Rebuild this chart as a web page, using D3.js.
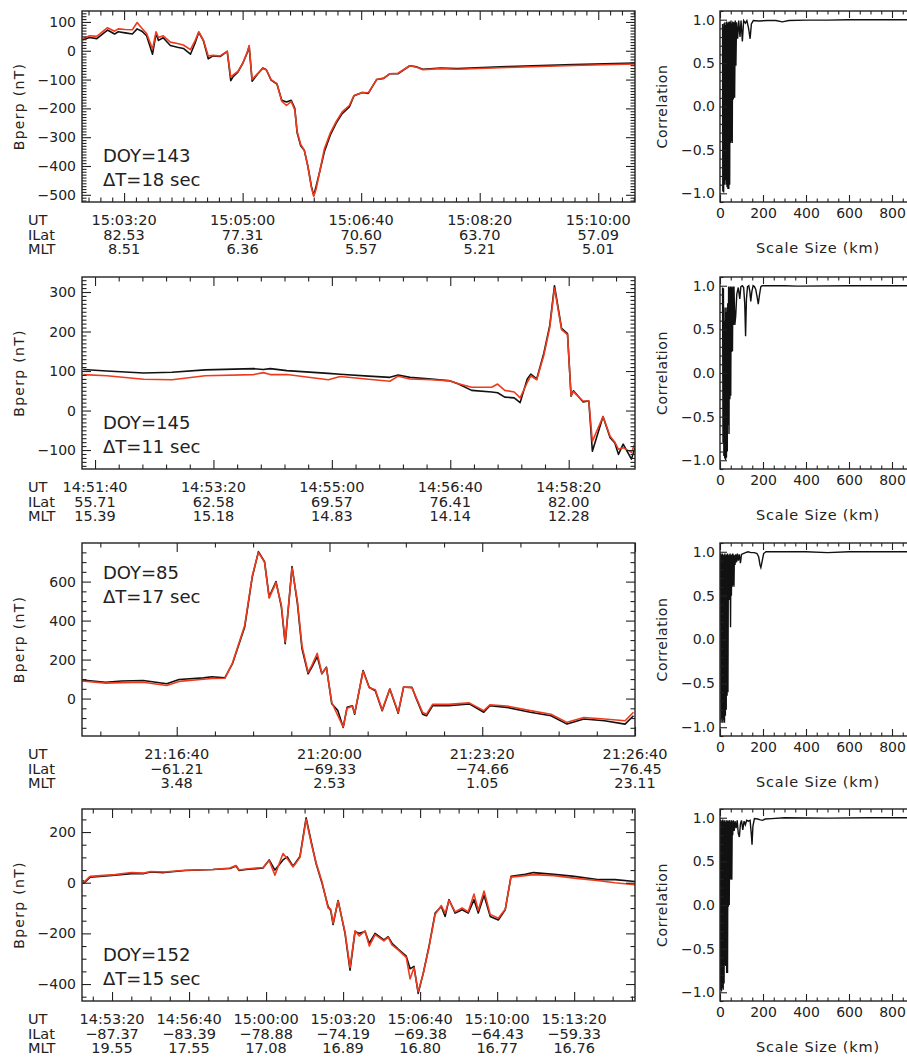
<!DOCTYPE html>
<html>
<head>
<meta charset="utf-8">
<script src="https://cdn.jsdelivr.net/npm/d3@7"></script>
<style>
  body { margin: 0; background: #fff; }
  svg text { font-family: "DejaVu Sans", sans-serif; fill: #222; }
</style>
</head>
<body>
<script>
// ---- panel 1 : DOY 143 (seconds after 15:00:00) ----
var p1Time = [165,171,177,186,192,195,201,207,211,215,
  219,224,227,229,233,239,245,250,256,260,
  263,267,271,275,281,287,290,292,296,300,
  304,305.5,308,312,317,320,324,329,333,337,
  341,344,346,349,352,355,358,360,362,365,
  369,374,379,384,390,394,401,406,413,419,
  424,431,441,447,452,467,481,523,579,631];
var p1Black = [38,46,42,72,58,66,62,58,76,68,
  52,-12,60,36,45,18,12,8,-12,28,
  64,34,-28,-18,-20,-2,-104,-90,-74,-45,
  -6,15,-106,-84,-60,-66,-102,-116,-172,-178,
  -172,-200,-285,-330,-345,-400,-470,-502,-470,-420,
  -350,-292,-250,-218,-195,-156,-145,-148,-100,-96,
  -80,-80,-52,-56,-64,-60,-62,-55,-48,-43];
var p1Red = [42,52,50,80,68,76,74,73,98,78,
  60,6,66,46,52,30,25,20,4,36,
  66,36,-18,-16,-18,-2,-92,-84,-72,-44,
  -4,18,-100,-82,-62,-66,-100,-114,-175,-190,
  -176,-205,-280,-325,-345,-400,-475,-505,-480,-420,
  -340,-285,-245,-212,-190,-155,-145,-146,-100,-95,
  -80,-78,-52,-57,-66,-62,-64,-58,-51,-46];
var p1UT = ["15:03:20","15:05:00","15:06:40","15:08:20","15:10:00"];
var p1ILat = ["82.53","77.31","70.60","63.70","57.09"];
var p1MLT = ["8.51","6.36","5.57","5.21","5.01"];

// ---- panel 2 : DOY 145 (seconds after 14:50:00) ----
var p2Time = [90,110,141,165,193,234,242,248,262,297,
  307,331,349,356,366,384,400,407,418,435,
  440,446,454,459,465,468,473,479,484,488,
  494,499,502,504,512,517,520,529,535,539,
  542,546,553,556];
var p2Black = [104,100,95,97,103,106,104,106,101,94,
  92,87,84,90,84,80,75,67,51,47,
  45,34,32,20,80,92,80,145,215,316,
  208,195,36,50,22,24,-103,-15,-69,-82,
  -111,-85,-123,-94];
var p2Red = [91,88,79,78,88,91,96,91,91,78,
  86,79,74,87,80,78,75,68,59,59,
  67,51,47,32,71,88,78,140,210,310,
  205,192,38,48,24,24,-78,-15,-65,-80,
  -98,-94,-106,-82];
var p2UT = ["14:51:40","14:53:20","14:55:00","14:56:40","14:58:20"];
var p2ILat = ["55.71","62.58","69.57","76.41","82.00"];
var p2MLT = ["15.39","15.18","14.83","14.14","12.28"];

// ---- panel 3 : DOY 85 (seconds after 21:00:00) ----
var p3Time = [876,907,928,956,987,1003,1035,1046,1063,1073,
  1089,1099,1107,1115,1121,1130,1137,1142,1151,1158,
  1164,1172,1177,1184,1190,1196,1203,1211,1218,1223,
  1230,1233,1244,1252,1260,1269,1279,1290,1297,1308,
  1313,1322,1327,1335,1356,1383,1402,1410,1432,1463,
  1490,1511,1533,1560,1587,1598];
var p3Black = [95,84,90,93,76,98,106,112,106,179,
  367,625,754,702,522,600,471,282,677,488,
  256,127,161,215,127,161,-27,-62,-148,-45,
  -37,-80,144,58,40,-62,49,-75,58,58,
  6,-80,-88,-37,-37,-27,-70,-37,-45,-70,
  -88,-131,-105,-114,-131,-88];
var p3Red = [90,79,82,84,67,88,99,103,104,182,
  375,630,750,700,515,595,480,290,670,500,
  270,135,170,232,130,158,-20,-88,-145,-50,
  -40,-75,140,55,45,-58,50,-70,60,55,
  10,-72,-80,-30,-30,-22,-62,-32,-38,-62,
  -80,-122,-97,-105,-114,-70];
var p3UT = ["21:16:40","21:20:00","21:23:20","21:26:40"];
var p3ILat = ["\u221261.21","\u221269.33","\u221274.66","\u221276.45"];
var p3MLT = ["3.48","2.53","1.05","23.11"];

// ---- panel 4 : DOY 152 (seconds after 14:50:00) ----
var p4Time = [125,127,143,208,250,283,300,335,390,462,
  506,522,530,548,592,608,623,644,655,670,
  688,704,719,730,745,761,768,774,787,805,
  818,831,842,857,868,883,906,917,927,943,
  964,974,984,995,1008,1023,1039,1055,1065,1075,
  1091,1109,1125,1140,1151,1166,1182,1203,1221,1236,
  1273,1294,1348,1400,1465,1506,1558];
var p4Black = [10,-2,22,30,36,36,42,40,48,52,
  56,66,48,52,58,90,50,90,102,65,
  104,256,150,75,0,-94,-110,-165,-70,-200,
  -345,-193,-200,-193,-239,-200,-226,-213,-239,-262,
  -290,-340,-330,-437,-358,-252,-120,-94,-133,-67,
  -120,-107,-120,-67,-120,-50,-133,-147,-107,25,
  33,40,33,25,12,12,5];
var p4Red = [8,2,25,32,40,38,44,42,49,52,
  58,68,50,54,60,88,30,115,95,62,
  100,250,145,78,5,-100,-105,-160,-72,-195,
  -335,-190,-210,-190,-250,-205,-230,-215,-245,-265,
  -295,-380,-335,-430,-360,-255,-125,-90,-120,-70,
  -115,-100,-115,-45,-110,-33,-125,-140,-105,22,
  28,32,28,18,8,0,-8];
var p4UT = ["14:53:20","14:56:40","15:00:00","15:03:20","15:06:40","15:10:00","15:13:20"];
var p4ILat = ["\u221287.37","\u221283.39","\u221278.88","\u221274.19","\u221269.38","\u221264.43","\u221259.33"];
var p4MLT = ["19.55","17.55","17.08","16.89","16.80","16.77","16.76"];

// ---- correlation vs scale size ----
var c1Km = [12,13,15,17,19,21,23,25,27,29,31,33,35,37,39,41,43,45,47,49,
  51,53,55,57,59,62,65,68,71,74,77,82,87,93,98,104,110,118,125,133,
  140,146,155,180,220,260,290,320,400,500,600,800,1000];
var c1R = [0.95,-0.98,0.92,-0.99,0.96,-0.9,0.97,-0.85,0.94,-0.9,
  0.98,-0.93,0.96,-0.95,0.97,-0.95,0.98,-0.9,0.97,-0.42,
  0.99,-0.4,0.96,-0.42,0.98,0.08,0.97,0.1,0.99,0.47,
  0.97,0.78,0.99,0.8,0.99,0.75,0.99,0.96,0.99,0.9,
  0.78,0.95,0.99,0.985,0.99,0.99,0.975,0.99,0.995,0.995,1.0,1.0,1.0];
var c2Km = [12,14,16,18,20,22,24,26,28,30,32,34,36,38,40,42,44,46,48,50,
  52,54,56,58,60,62,65,69,73,78,85,92,97,104,110,115,119,123,128,134,
  139,143,148,154,160,166,172,178,184,190,196,300,360,600,1000];
var c2R = [0.98,-0.8,0.97,-0.95,0.6,-0.98,0.75,-1.0,0.7,-0.97,
  0.75,-0.9,0.8,-0.6,0.99,-0.7,0.98,-0.3,0.99,-0.26,
  0.99,0.24,0.98,0.25,0.99,0.55,0.99,0.55,0.65,0.9,
  0.98,0.85,0.99,1.0,0.98,0.8,0.42,0.85,0.99,1.0,
  0.93,0.82,0.93,1.0,0.99,0.96,0.88,0.79,0.9,0.99,1.0,1.0,0.995,1.0,1.0];
var c3Km = [3,5,7,9,11,13,15,17,19,21,23,25,27,29,31,33,35,37,39,41,
  43,45,47,49,51,53,55,57,59,61,63,65,67,70,73,77,81,85,90,95,
  100,108,119,130,145,160,172,180,186,190,195,203,214,300,400,500,600,1000];
var c3R = [0.98,-0.95,0.97,-0.9,0.98,-0.95,0.96,-0.92,0.97,-0.95,
  0.98,-0.87,0.96,-0.8,0.97,-0.64,0.98,-0.6,0.96,0.5,
  0.97,0.45,0.98,0.14,0.96,0.5,0.97,0.6,0.98,0.62,
  0.97,0.6,0.96,0.85,0.97,0.88,0.98,0.9,0.97,0.87,
  0.97,0.98,0.99,1.0,0.99,0.99,0.98,0.94,0.85,0.82,
  0.88,0.98,1.0,1.0,1.0,0.99,1.0,1.0];
var c4Km = [1,3,5,7,9,11,13,15,17,19,21,23,25,27,29,31,33,35,37,39,
  41,43,45,47,49,51,53,55,57,59,62,66,70,75,80,85,90,95,100,106,
  112,118,124,132,140,146,149,153,160,175,188,198,210,240,300,500,700,1000];
var c4R = [0.98,-0.97,0.96,-0.99,0.97,-0.95,0.98,-0.97,0.96,-0.9,
  0.97,-0.69,0.95,-0.7,0.97,-0.78,0.96,-0.78,0.97,-0.02,
  0.96,0.0,0.97,0.29,0.95,0.3,0.97,0.29,0.96,0.8,
  0.97,0.85,0.96,0.88,0.97,0.82,0.78,0.93,0.97,0.86,
  0.96,0.92,0.97,0.96,0.97,0.8,0.69,0.9,0.99,0.985,
  0.975,0.97,0.985,0.99,1.0,0.995,1.0,1.0];

var doyLabels = ["DOY=143", "DOY=145", "DOY=85", "DOY=152"];
var dtLabels = ["\u0394T=18 sec", "\u0394T=11 sec", "\u0394T=17 sec", "\u0394T=15 sec"];
var kmLabels = [0, 200, 400, 600, 800];

// layout
var W = 907, H = 1057;
var leftX = [82, 635], rightX = [720, 935];

var panels = [
  {base: 15*3600, t: p1Time, b: p1Black, r: p1Red, ut: p1UT, ilat: p1ILat, mlt: p1MLT,
   km: c1Km, cr: c1R, rows: [11, 202], xDom: [164.5, 631], yDom: [-525, 138],
   yMajor: d3.range(-500, 101, 100), yMinor: 10, xMinor: 10, doyTop: false},
  {base: 14*3600+50*60, t: p2Time, b: p2Black, r: p2Red, ut: p2UT, ilat: p2ILat, mlt: p2MLT,
   km: c2Km, cr: c2R, rows: [277, 469], xDom: [89, 556], yDom: [-148, 338],
   yMajor: d3.range(-100, 301, 100), yMinor: 10, xMinor: 20, doyTop: false},
  {base: 21*3600, t: p3Time, b: p3Black, r: p3Red, ut: p3UT, ilat: p3ILat, mlt: p3MLT,
   km: c3Km, cr: c3R, rows: [543, 736], xDom: [876, 1600], yDom: [-192, 798],
   yMajor: d3.range(0, 601, 200), yMinor: 50, xMinor: 50, doyTop: true},
  {base: 14*3600+50*60, t: p4Time, b: p4Black, r: p4Red, ut: p4UT, ilat: p4ILat, mlt: p4MLT,
   km: c4Km, cr: c4R, rows: [809, 1001], xDom: [122, 1558], yDom: [-467, 291],
   yMajor: d3.range(-400, 201, 200), yMinor: 50, xMinor: 50, doyTop: false}
];

function toSec(s) {
  var p = s.split(":").map(Number);
  return p[0]*3600 + p[1]*60 + p[2];
}

var svg = d3.select("body").append("svg")
  .attr("width", W)
  .attr("height", H);

var frameColor = "#222";

// inward ticks without labels
function tickSet(axisFn, scale, values, size, tx, ty) {
  svg.append("g")
    .attr("transform", "translate(" + tx + "," + ty + ")")
    .call(axisFn(scale).tickValues(values).tickSize(-size).tickFormat(""))
    .call(function(g) { g.select(".domain").remove(); })
    .selectAll("line").attr("stroke", frameColor).attr("stroke-width", 1.1);
}

function minorVals(dom, step, major) {
  var start = Math.ceil(dom[0] / step) * step;
  return d3.range(start, dom[1] + 1e-6, step).filter(function(v) {
    return !major.some(function(m) { return Math.abs(m - v) < 1e-6; });
  });
}

panels.forEach(function(p, i) {
  var top = p.rows[0], bottom = p.rows[1];

  // ---------- left: Bperp time series ----------
  var x = d3.scaleLinear().domain(p.xDom).range(leftX);
  var y = d3.scaleLinear().domain(p.yDom).range([bottom, top]);

  var clipId = "clipL" + i;
  svg.append("clipPath").attr("id", clipId)
    .append("rect")
    .attr("x", leftX[0]).attr("y", top)
    .attr("width", leftX[1] - leftX[0]).attr("height", bottom - top);

  var line = d3.line()
    .x(function(d) { return x(d[0]); })
    .y(function(d) { return y(d[1]); });

  var blackPts = p.t.map(function(t, k) { return [t, p.b[k]]; });
  var redPts = p.t.map(function(t, k) { return [t, p.r[k]]; });

  svg.append("path")
    .datum(blackPts)
    .attr("clip-path", "url(#" + clipId + ")")
    .attr("fill", "none")
    .attr("stroke", "#111")
    .attr("stroke-width", 1.6)
    .attr("stroke-linejoin", "round")
    .attr("d", line);

  svg.append("path")
    .datum(redPts)
    .attr("clip-path", "url(#" + clipId + ")")
    .attr("fill", "none")
    .attr("stroke", "#ef3b1d")
    .attr("stroke-width", 1.6)
    .attr("stroke-linejoin", "round")
    .attr("d", line);

  var xMajor = p.ut.map(function(s) { return toSec(s) - p.base; });
  var xMinor = minorVals(p.xDom, p.xMinor, xMajor);
  var yMinor = minorVals(p.yDom, p.yMinor, p.yMajor);

  tickSet(d3.axisBottom, x, xMajor, 9, 0, bottom);
  tickSet(d3.axisBottom, x, xMinor, 4.5, 0, bottom);
  tickSet(d3.axisTop, x, xMajor, 9, 0, top);
  tickSet(d3.axisTop, x, xMinor, 4.5, 0, top);
  tickSet(d3.axisRight, y, p.yMajor, 9, leftX[1], 0);
  tickSet(d3.axisRight, y, yMinor, 4.5, leftX[1], 0);
  tickSet(d3.axisLeft, y, yMinor, 4.5, leftX[0], 0);

  var yAxis = svg.append("g")
    .attr("transform", "translate(" + leftX[0] + ",0)")
    .call(d3.axisLeft(y).tickValues(p.yMajor).tickSize(-9).tickPadding(6).tickFormat(d3.format("d")));
  yAxis.select(".domain").remove();
  yAxis.attr("font-size", 14).attr("font-family", null);
  yAxis.selectAll("line").attr("stroke", frameColor).attr("stroke-width", 1.1);

  svg.append("rect")
    .attr("x", leftX[0]).attr("y", top)
    .attr("width", leftX[1] - leftX[0]).attr("height", bottom - top)
    .attr("fill", "none").attr("stroke", frameColor).attr("stroke-width", 1.4);

  // UT / ILat / MLT rows
  var rowDefs = [["UT", p.ut, 23], ["ILat", p.ilat, 38], ["MLT", p.mlt, 52]];
  rowDefs.forEach(function(row) {
    svg.append("text")
      .attr("x", 28).attr("y", bottom + row[2])
      .attr("font-size", 14.5)
      .text(row[0]);
    svg.append("g").selectAll("text")
      .data(row[1])
      .enter()
      .append("text")
      .attr("x", function(d, k) { return x(xMajor[k]); })
      .attr("y", bottom + row[2])
      .attr("text-anchor", "middle")
      .attr("font-size", 14.5)
      .text(function(d) { return d; });
  });

  svg.append("text")
    .attr("transform", "translate(24," + ((top + bottom) / 2) + ") rotate(-90)")
    .attr("text-anchor", "middle")
    .attr("font-size", 14)
    .attr("letter-spacing", 1.3)
    .text("Bperp (nT)");

  var doyY = p.doyTop ? top + 36 : bottom - 40;
  svg.append("text")
    .attr("x", 103).attr("y", doyY)
    .attr("font-size", 18)
    .text(doyLabels[i]);
  svg.append("text")
    .attr("x", 103).attr("y", doyY + 23.5)
    .attr("font-size", 18)
    .text(dtLabels[i]);

  // ---------- right: correlation vs scale size ----------
  var cx = d3.scaleLinear().domain([0, 1000]).range(rightX);
  var cy = d3.scaleLinear().domain([-1.1, 1.1]).range([bottom, top]);

  var clipR = "clipR" + i;
  svg.append("clipPath").attr("id", clipR)
    .append("rect")
    .attr("x", rightX[0]).attr("y", top)
    .attr("width", rightX[1] - rightX[0]).attr("height", bottom - top);

  var cPts = p.km.map(function(k, j) { return [k, p.cr[j]]; });
  svg.append("path")
    .datum(cPts)
    .attr("clip-path", "url(#" + clipR + ")")
    .attr("fill", "none")
    .attr("stroke", "#111")
    .attr("stroke-width", 1.4)
    .attr("d", d3.line().x(function(d) { return cx(d[0]); }).y(function(d) { return cy(d[1]); }));

  var kmMajor = d3.range(0, 1001, 200);
  var kmMinor = minorVals([0, 1000], 50, kmMajor);
  var rMajor = [-1, -0.5, 0, 0.5, 1];
  var rMinor = minorVals([-1.1, 1.1], 0.1, rMajor);

  tickSet(d3.axisTop, cx, kmMajor, 7, 0, top);
  tickSet(d3.axisTop, cx, kmMinor, 3.5, 0, top);
  tickSet(d3.axisBottom, cx, kmMajor, 7, 0, bottom);
  tickSet(d3.axisBottom, cx, kmMinor, 3.5, 0, bottom);
  tickSet(d3.axisLeft, cy, rMinor, 3.5, rightX[0], 0);

  // km tick labels (only those inside the visible page)
  var kAxis = svg.append("g")
    .attr("transform", "translate(0," + bottom + ")")
    .call(d3.axisBottom(cx).tickValues(kmLabels).tickSize(0).tickPadding(6).tickFormat(d3.format("d")));
  kAxis.select(".domain").remove();
  kAxis.attr("font-size", 14).attr("font-family", null);

  var rAxis = svg.append("g")
    .attr("transform", "translate(" + rightX[0] + ",0)")
    .call(d3.axisLeft(cy).tickValues(rMajor).tickSize(-7).tickPadding(5).tickFormat(d3.format(".1f")));
  rAxis.select(".domain").remove();
  rAxis.attr("font-size", 14).attr("font-family", null);
  rAxis.selectAll("line").attr("stroke", frameColor).attr("stroke-width", 1.1);

  svg.append("rect")
    .attr("x", rightX[0]).attr("y", top)
    .attr("width", rightX[1] - rightX[0]).attr("height", bottom - top)
    .attr("fill", "none").attr("stroke", frameColor).attr("stroke-width", 1.4);

  svg.append("text")
    .attr("transform", "translate(667," + ((top + bottom) / 2) + ") rotate(-90)")
    .attr("text-anchor", "middle")
    .attr("font-size", 14)
    .attr("letter-spacing", 0.6)
    .text("Correlation");

  svg.append("text")
    .attr("x", 818).attr("y", bottom + 51)
    .attr("text-anchor", "middle")
    .attr("font-size", 14.5)
    .attr("letter-spacing", 0.8)
    .text("Scale Size (km)");
});
</script>
</body>
</html>
